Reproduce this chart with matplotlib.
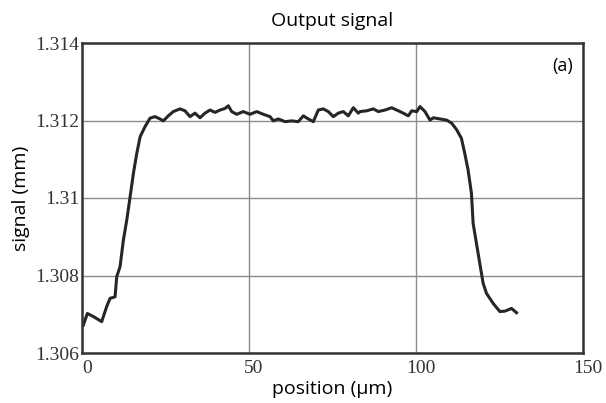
import matplotlib
matplotlib.use("Agg")
import matplotlib.pyplot as plt
import matplotlib.transforms as mtransforms

position = [0.4, 1.6, 3.4, 5.9, 7.4, 8.4, 9.9, 10.4, 11.4, 12.4, 13.4, 14.4, 15.4, 16.4,
            17.4, 18.86, 20.36, 21.86, 23.35, 24.34, 25.84, 27.34, 29.34, 30.84, 32.34,
            33.83, 35.33, 36.83, 38.32, 39.82, 41.32, 42.81, 43.80, 44.82, 46.32, 48.29,
            50.30, 52.31, 54.28, 56.29, 57.28, 58.77, 60.78, 62.78, 64.76, 66.26, 67.75,
            69.25, 70.75, 72.25, 73.74, 75.24, 76.74, 78.23, 79.73, 81.23, 82.72, 83.23,
            85.24, 87.22, 88.71, 90.72, 92.72, 94.22, 95.72, 97.69, 98.71, 100.21, 101.20,
            102.69, 104.19, 105.18, 107.19, 109.19, 110.69, 112.19, 113.6, 114.6, 115.6,
            116.6, 117.1, 118.1, 119.1, 120.1, 121.1, 123.1, 125.1, 126.6, 128.6, 130.1]
signal = [1.30672, 1.30702, 1.30694, 1.30681, 1.30720, 1.30741, 1.30745, 1.30797, 1.30823,
          1.30892, 1.30943, 1.31003, 1.31064, 1.31115, 1.31158, 1.31184, 1.31206, 1.31210,
          1.31204, 1.31199, 1.31212, 1.31223, 1.31230, 1.31225, 1.31210, 1.31219, 1.31207,
          1.31219, 1.31227, 1.31221, 1.31227, 1.31231, 1.31238, 1.31223, 1.31216, 1.31223,
          1.31216, 1.31223, 1.31216, 1.31210, 1.31199, 1.31204, 1.31197, 1.31199, 1.31197,
          1.31212, 1.31204, 1.31197, 1.31227, 1.31230, 1.31223, 1.31210, 1.31219, 1.31223,
          1.31212, 1.31233, 1.31219, 1.31223, 1.31225, 1.31230, 1.31223, 1.31227, 1.31233,
          1.31227, 1.31221, 1.31212, 1.31225, 1.31223, 1.31236, 1.31223, 1.31201, 1.31207,
          1.31204, 1.31201, 1.31193, 1.31176, 1.31154, 1.31115, 1.31072, 1.31012, 1.30935,
          1.30883, 1.30831, 1.30780, 1.30754, 1.30728, 1.30707, 1.30708, 1.30715, 1.30704]

xticks = [0, 50, 100, 150]
xtick_labels = ["0", "50", "100", "150"]
yticks = [1.306, 1.308, 1.310, 1.312, 1.314]
ytick_labels = ["1.306", "1.308", "1.31", "1.312", "1.314"]

fig = plt.figure(figsize=(6.06, 4.03), dpi=100)
ax = fig.add_axes([82/606, 1-353/403, (583-82)/606, (353-43)/403])
ax.plot(position, signal, color="#262626", lw=2.2)
ax.set_xlim(0, 150)
ax.set_ylim(1.306, 1.314)
ax.set_xticks(xticks)
ax.set_yticks(yticks)
ax.set_xticklabels(xtick_labels, family="Liberation Serif", fontsize=14, color="#333333")
ax.set_yticklabels(ytick_labels, family="Liberation Serif", fontsize=14, color="#333333")
ax.tick_params(axis="x", length=0, pad=5)
ax.tick_params(axis="y", length=0, pad=2)
off = mtransforms.ScaledTranslation(5/100, 0, fig.dpi_scale_trans)
for lbl in ax.get_xticklabels():
    lbl.set_transform(lbl.get_transform() + off)
ax.grid(True, color="#8c8c8c", lw=1.0)
for s in ax.spines.values():
    s.set_color("#333333")
    s.set_linewidth(1.8)
ax.set_title("Output signal", family="Open Sans", fontsize=14, pad=12)
ax.set_xlabel("position (μm)", family="Open Sans", fontsize=14, labelpad=2)
ax.set_ylabel("signal (mm)", family="Open Sans", fontsize=14, labelpad=4)
ax.text(0.98, 0.925, "(a)", transform=ax.transAxes, family="Open Sans", fontsize=13,
        ha="right", va="center")
fig.savefig("out.png", dpi=100)
